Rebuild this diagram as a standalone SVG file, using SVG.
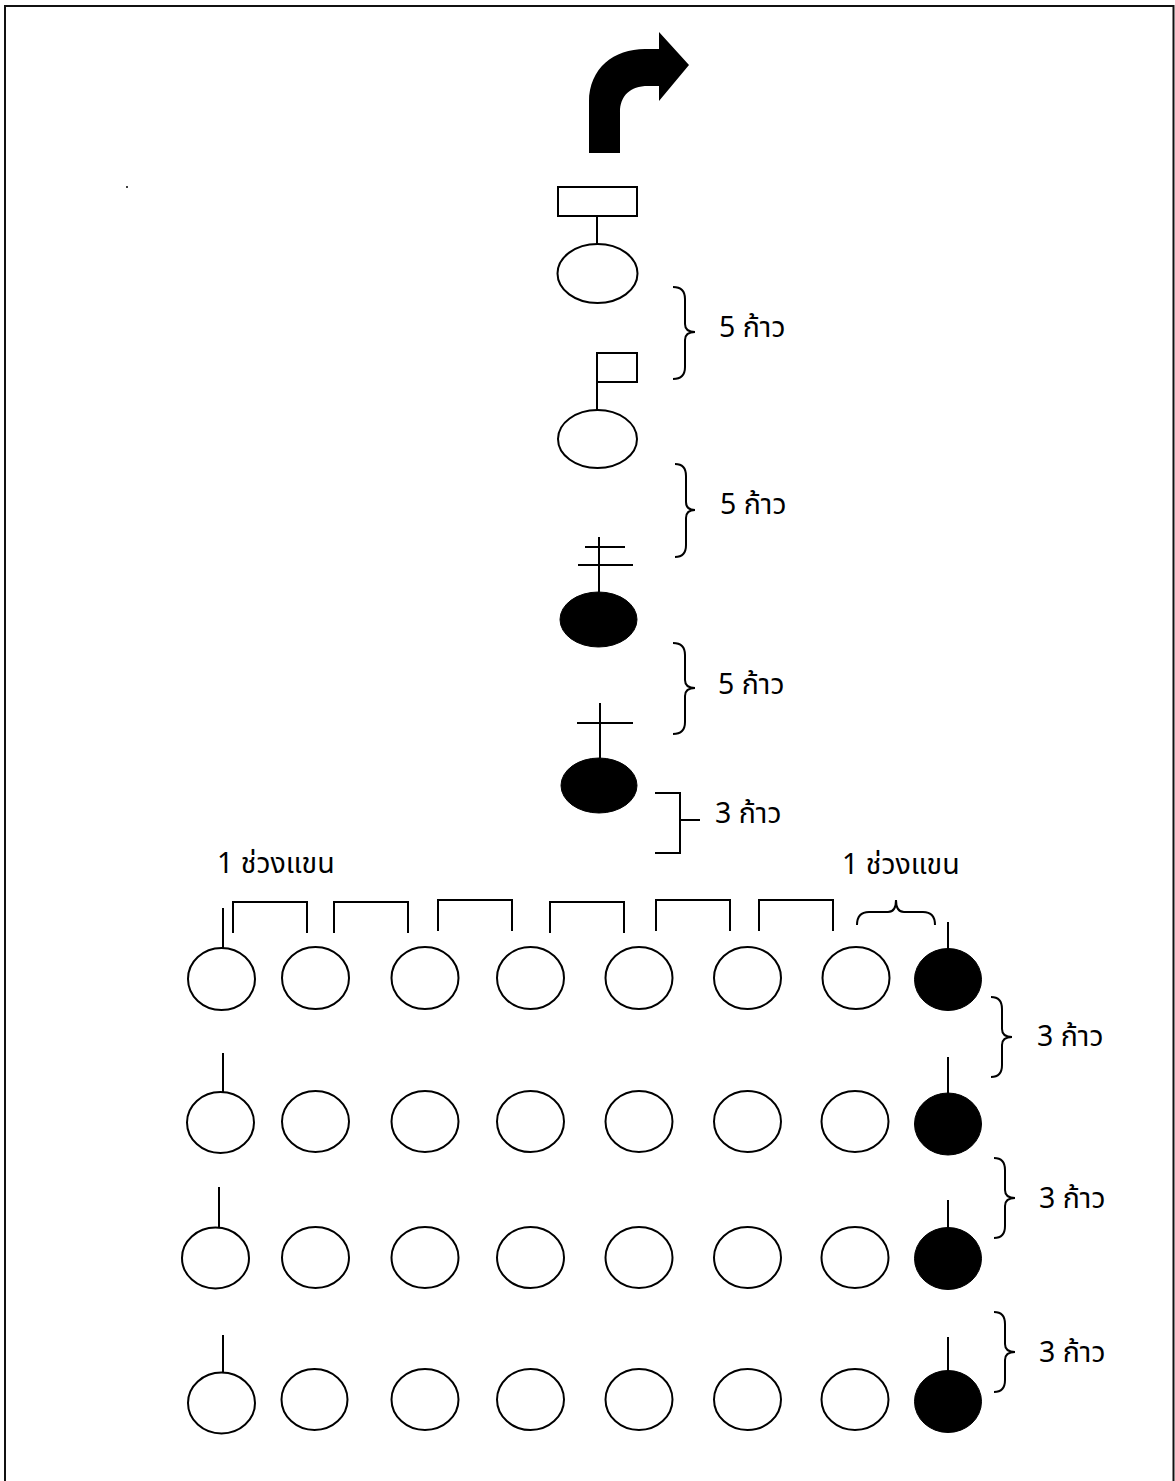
<svg xmlns="http://www.w3.org/2000/svg" width="1175" height="1481" viewBox="0 0 1175 1481">
<style>
.o{fill:#fff;stroke:#000;stroke-width:2}
.f{fill:#000;stroke:#000;stroke-width:1}
.l{fill:none;stroke:#000;stroke-width:2}
.t{font-family:"Noto Sans Thai","Noto Serif Thai","Garuda","Loma","DejaVu Sans",sans-serif;font-size:28.5px;fill:#000}
</style>
<rect width="1175" height="1481" fill="#fff"/>
<path d="M5,1481 L5,6 L1173.5,6 L1173.5,1481" fill="none" stroke="#111" stroke-width="2"/>
<circle cx="127" cy="187" r="1" fill="#000"/>

<g id="turn-arrow">
<path d="M589,153 L589,102 C589,68 614,49 645,49 L659,49 L659,32 L689,65 L659,101 L659,86 L648,86 C630,86 620,96 620,112 L620,153 Z" fill="#000"/>
</g>

<g id="leader-flag-rect">
<rect class="o" x="558" y="187" width="79" height="29"/>
<line class="l" x1="597" y1="216" x2="597" y2="244"/>
<ellipse class="o" cx="597.5" cy="273.5" rx="40" ry="29.5"/>
</g>

<g id="leader-flag-small">
<rect class="o" x="597" y="353" width="40" height="29"/>
<line class="l" x1="597" y1="353" x2="597" y2="410"/>
<ellipse class="o" cx="597.5" cy="439" rx="39.5" ry="29"/>
</g>

<g id="leader-double-cross">
<line class="l" x1="599" y1="537" x2="599" y2="592"/>
<line class="l" x1="585" y1="547" x2="625" y2="547"/>
<line class="l" x1="578" y1="565" x2="633" y2="565"/>
<ellipse class="f" cx="598.5" cy="619.5" rx="38.5" ry="27.5"/>
</g>

<g id="leader-single-cross">
<line class="l" x1="600" y1="703" x2="600" y2="758"/>
<line class="l" x1="577" y1="723" x2="633" y2="723"/>
<ellipse class="f" cx="599" cy="785.5" rx="38" ry="27.5"/>
</g>

<g id="row-1">
<line class="l" x1="223" y1="908" x2="223" y2="948"/>
<ellipse class="o" cx="221.5" cy="979" rx="33.5" ry="31"/>
<ellipse class="o" cx="315.5" cy="978" rx="33.5" ry="31"/>
<ellipse class="o" cx="425" cy="978" rx="33.5" ry="31"/>
<ellipse class="o" cx="530.5" cy="978" rx="33.5" ry="31"/>
<ellipse class="o" cx="639" cy="978" rx="33.5" ry="31"/>
<ellipse class="o" cx="747.5" cy="978" rx="33.5" ry="31"/>
<ellipse class="o" cx="856" cy="978" rx="33.5" ry="31"/>
<line class="l" x1="948" y1="922" x2="948" y2="950"/>
<ellipse class="f" cx="948" cy="979.5" rx="33.5" ry="31"/>
</g>

<g id="row-2">
<line class="l" x1="223" y1="1053" x2="223" y2="1092"/>
<ellipse class="o" cx="220.5" cy="1122.5" rx="33.5" ry="30.5"/>
<ellipse class="o" cx="315.5" cy="1121.5" rx="33.5" ry="30.5"/>
<ellipse class="o" cx="425" cy="1121.5" rx="33.5" ry="30.5"/>
<ellipse class="o" cx="530.5" cy="1121.5" rx="33.5" ry="30.5"/>
<ellipse class="o" cx="639" cy="1121.5" rx="33.5" ry="30.5"/>
<ellipse class="o" cx="747.5" cy="1121.5" rx="33.5" ry="30.5"/>
<ellipse class="o" cx="855" cy="1121.5" rx="33.5" ry="30.5"/>
<line class="l" x1="948" y1="1057" x2="948" y2="1095"/>
<ellipse class="f" cx="948" cy="1124" rx="33.5" ry="31"/>
</g>

<g id="row-3">
<line class="l" x1="219" y1="1187" x2="219" y2="1228"/>
<ellipse class="o" cx="215.5" cy="1258" rx="33.5" ry="30.5"/>
<ellipse class="o" cx="315.5" cy="1257.5" rx="33.5" ry="30.5"/>
<ellipse class="o" cx="425" cy="1257.5" rx="33.5" ry="30.5"/>
<ellipse class="o" cx="530.5" cy="1257.5" rx="33.5" ry="30.5"/>
<ellipse class="o" cx="639" cy="1257.5" rx="33.5" ry="30.5"/>
<ellipse class="o" cx="747.5" cy="1257.5" rx="33.5" ry="30.5"/>
<ellipse class="o" cx="855" cy="1257.5" rx="33.5" ry="30.5"/>
<line class="l" x1="948" y1="1200" x2="948" y2="1229"/>
<ellipse class="f" cx="948" cy="1258.5" rx="33.5" ry="31"/>
</g>

<g id="row-4">
<line class="l" x1="223" y1="1335" x2="223" y2="1373"/>
<ellipse class="o" cx="221.5" cy="1403" rx="33.5" ry="30.5"/>
<ellipse class="o" cx="314.5" cy="1399.5" rx="33" ry="30.5"/>
<ellipse class="o" cx="425" cy="1399.5" rx="33.5" ry="30.5"/>
<ellipse class="o" cx="530.5" cy="1399.5" rx="33.5" ry="30.5"/>
<ellipse class="o" cx="639" cy="1399.5" rx="33.5" ry="30.5"/>
<ellipse class="o" cx="747.5" cy="1399.5" rx="33.5" ry="30.5"/>
<ellipse class="o" cx="855" cy="1399.5" rx="33.5" ry="30.5"/>
<line class="l" x1="948" y1="1337" x2="948" y2="1373"/>
<ellipse class="f" cx="948" cy="1401.5" rx="33.5" ry="31"/>
</g>

<g id="connectors">
<path class="l" d="M673,287 Q685,287 685,299 L685,324 Q685,332 695,332 Q685,332 685,340 L685,367 Q685,379 673,379"/>
<path class="l" d="M675,464 Q686,464 686,476 L686,502 Q686,510 695,510 Q686,510 686,518 L686,545 Q686,557 675,557"/>
<path class="l" d="M673,643 Q685,643 685,655 L685,680 Q685,688 695,688 Q685,688 685,696 L685,722 Q685,734 673,734"/>
<path class="l" d="M655,793 L680,793 L680,853 L655,853 M680,820 L700,820"/>
<path class="l" d="M233,933 L233,902 L307,902 L307,933"/>
<path class="l" d="M334,933 L334,902 L408,902 L408,933"/>
<path class="l" d="M438,931 L438,900 L512,900 L512,931"/>
<path class="l" d="M550,933 L550,902 L624,902 L624,933"/>
<path class="l" d="M656,931 L656,900 L730,900 L730,931"/>
<path class="l" d="M759,931 L759,900 L833,900 L833,931"/>
<path class="l" d="M857,925 Q857,912 869,912 L888,912 Q896,912 896,900 Q896,912 904,912 L923,912 Q935,912 935,925"/>
<path class="l" d="M991,997 Q1002,997 1002,1009 L1002,1029 Q1002,1037 1012,1037 Q1002,1037 1002,1045 L1002,1065 Q1002,1077 991,1077"/>
<path class="l" d="M994,1158 Q1005,1158 1005,1170 L1005,1190 Q1005,1198 1015,1198 Q1005,1198 1005,1206 L1005,1226 Q1005,1238 994,1238"/>
<path class="l" d="M994,1312 Q1005,1312 1005,1324 L1005,1344 Q1005,1352 1015,1352 Q1005,1352 1005,1360 L1005,1380 Q1005,1392 994,1392"/>
</g>

<g id="labels">
<text class="t" x="719" y="337">5 ก้าว</text>
<text class="t" x="720" y="514">5 ก้าว</text>
<text class="t" x="718" y="694">5 ก้าว</text>
<text class="t" x="715" y="823">3 ก้าว</text>
<text class="t" x="217" y="873">1 ช่วงแขน</text>
<text class="t" x="842" y="874">1 ช่วงแขน</text>
<text class="t" x="1037" y="1046">3 ก้าว</text>
<text class="t" x="1039" y="1208">3 ก้าว</text>
<text class="t" x="1039" y="1362">3 ก้าว</text>
</g>
</svg>
